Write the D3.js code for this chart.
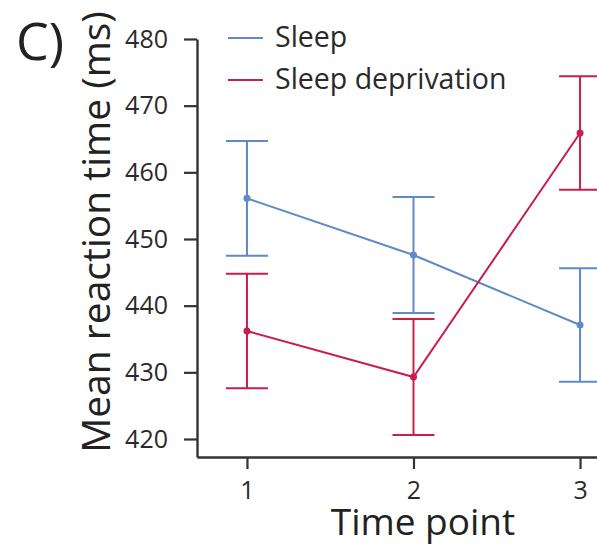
<!DOCTYPE html>
<html>
<head>
<meta charset="utf-8">
<script src="https://cdn.jsdelivr.net/npm/d3@7/dist/d3.min.js"></script>
<style>
  html, body { margin: 0; padding: 0; background: #fff; }
  svg { display: block; font-family: "Open Sans", sans-serif; }
</style>
</head>
<body>
<svg id="chart" width="597" height="546"></svg>
<script>
// Mean reaction time (ms) by time point, with error bars
const timePoints = [1, 2, 3];
const seriesNames = ["Sleep", "Sleep deprivation"];
const sleepMean = [456.1, 447.6, 437.1];
const sleepErr = [8.6, 8.7, 8.5];
const deprivMean = [436.2, 429.3, 465.9];
const deprivErr = [8.6, 8.7, 8.5];
const yTicks = [420, 430, 440, 450, 460, 470, 480];
const xTicks = [1, 2, 3];

const colors = { "Sleep": "#6189c6", "Sleep deprivation": "#c91d4e" };
const axisColor = "#333";

const series = [
  { name: seriesNames[0], mean: sleepMean, err: sleepErr },
  { name: seriesNames[1], mean: deprivMean, err: deprivErr }
];

const svg = d3.select("#chart");

const x = d3.scaleLinear().domain([0.7, 3.3]).range([197, 630]);
const y = d3.scaleLinear().domain([417.3, 480]).range([457, 39]);

// axes
const yAxis = svg.append("g")
  .attr("transform", "translate(197,0)")
  .call(d3.axisLeft(y).tickValues(yTicks).tickSize(13).tickSizeOuter(0).tickPadding(16));
const xAxis = svg.append("g")
  .attr("transform", "translate(0,457)")
  .call(d3.axisBottom(x).tickValues(xTicks).tickFormat(d3.format("d"))
    .tickSize(12).tickSizeOuter(0).tickPadding(7));

[yAxis, xAxis].forEach(g => {
  g.select(".domain").attr("stroke", axisColor).attr("stroke-width", 2.4);
  g.selectAll(".tick line").attr("stroke", axisColor).attr("stroke-width", 2.2);
  g.selectAll(".tick text").attr("fill", "#2a2a2a").style("font-size", "25px")
    .style("font-family", "'Open Sans', sans-serif");
});
xAxis.selectAll(".tick text").attr("dy", "0.92em");

// lines, error bars and points
const line = d3.line().x((d, i) => x(timePoints[i])).y(d => y(d));
const capHalf = 21;

series.forEach(s => {
  const c = colors[s.name];
  const g = svg.append("g");
  g.append("path")
    .datum(s.mean)
    .attr("d", line)
    .attr("fill", "none")
    .attr("stroke", c)
    .attr("stroke-width", 2);

  const bars = g.selectAll(".eb").data(s.mean.map((m, i) => ({ t: timePoints[i], m, e: s.err[i] })))
    .enter().append("g");
  bars.append("line")
    .attr("x1", d => x(d.t)).attr("x2", d => x(d.t))
    .attr("y1", d => y(d.m + d.e)).attr("y2", d => y(d.m - d.e))
    .attr("stroke", c).attr("stroke-width", 2);
  bars.append("line")
    .attr("x1", d => x(d.t) - capHalf).attr("x2", d => x(d.t) + capHalf)
    .attr("y1", d => y(d.m + d.e)).attr("y2", d => y(d.m + d.e))
    .attr("stroke", c).attr("stroke-width", 2);
  bars.append("line")
    .attr("x1", d => x(d.t) - capHalf).attr("x2", d => x(d.t) + capHalf)
    .attr("y1", d => y(d.m - d.e)).attr("y2", d => y(d.m - d.e))
    .attr("stroke", c).attr("stroke-width", 2);
  bars.append("circle")
    .attr("cx", d => x(d.t)).attr("cy", d => y(d.m))
    .attr("r", 3.5).attr("fill", c);
});

// legend
const legend = svg.append("g").attr("transform", "translate(228,38)");
seriesNames.forEach((name, i) => {
  const row = legend.append("g").attr("transform", `translate(0,${i * 42})`);
  row.append("line").attr("x1", 0).attr("x2", 35).attr("y1", 0).attr("y2", 0)
    .attr("stroke", colors[name]).attr("stroke-width", 2);
  row.append("text").attr("x", 47).attr("y", 9)
    .attr("fill", "#2a2a2a").style("font-size", "28.5px").text(name);
});

// axis titles
svg.append("text")
  .attr("transform", "translate(110,232) rotate(-90)")
  .attr("text-anchor", "middle")
  .attr("fill", "#222")
  .style("font-size", "39px")
  .text("Mean reaction time (ms)");

svg.append("text")
  .attr("x", 423).attr("y", 535)
  .attr("text-anchor", "middle")
  .attr("fill", "#222")
  .style("font-size", "37px")
  .text("Time point");

// panel label
svg.append("text")
  .attr("x", 16).attr("y", 60)
  .attr("fill", "#222")
  .style("font-size", "52px")
  .text("C)");
</script>
</body>
</html>
